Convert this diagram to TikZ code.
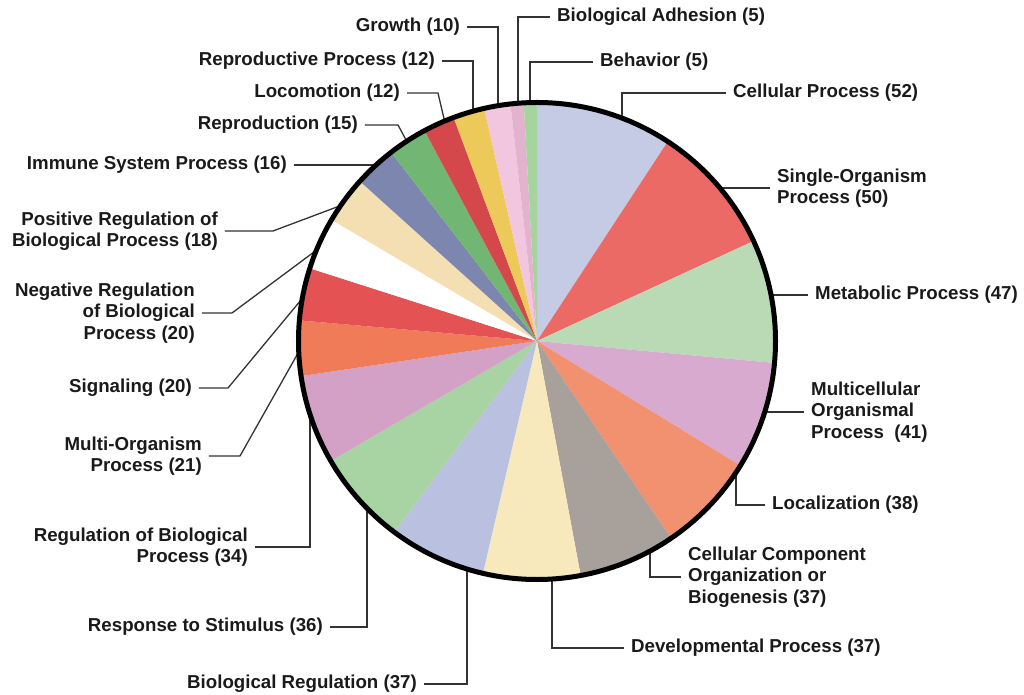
\documentclass[tikz,border=0pt]{standalone}
\usepackage{fontspec}
\setmainfont{Liberation Sans}

\definecolor{txtgray}{HTML}{1A1A1A}
\definecolor{linegray}{HTML}{333333}
\definecolor{cCell}{HTML}{C5CBE4}
\definecolor{cSingle}{HTML}{EC6A66}
\definecolor{cMetab}{HTML}{B9DAB4}
\definecolor{cMulti}{HTML}{D9AAD0}
\definecolor{cLocal}{HTML}{F19170}
\definecolor{cComp}{HTML}{A8A09B}
\definecolor{cDevel}{HTML}{F8E9BC}
\definecolor{cBioReg}{HTML}{BAC0E0}
\definecolor{cResp}{HTML}{A8D4A4}
\definecolor{cRegBio}{HTML}{D3A0C6}
\definecolor{cMultiOrg}{HTML}{EF7B58}
\definecolor{cSignal}{HTML}{E55254}
\definecolor{cPosReg}{HTML}{F3DFB1}
\definecolor{cImmune}{HTML}{7C86AF}
\definecolor{cReprod}{HTML}{72B674}
\definecolor{cLocom}{HTML}{D4484C}
\definecolor{cReprProc}{HTML}{EDC95A}
\definecolor{cGrowth}{HTML}{F2C6DE}
\definecolor{cAdhes}{HTML}{E2B2CE}
\definecolor{cBehav}{HTML}{A6D49E}

\tikzset{
  lbl/.style={font=\fontsize{18.7}{21.5}\selectfont\bfseries, text=txtgray, inner sep=0pt, inner xsep=7pt},
  lblL/.style={lbl, anchor=east, align=right},
  lblR/.style={lbl, anchor=west, align=left},
  leader/.style={draw=linegray, line width=1.3pt}
}

\begin{document}
\begin{tikzpicture}[x=1pt,y=1pt]
\useasboundingbox (-537,-354) rectangle (487,341);
\def\rad{238.5}
\coordinate (c) at (0,0);

% slices, clockwise from the top (total 563, 360/563 = 0.639432 deg each)
\xdef\angA{90}
\foreach \val/\col in {52/cCell,50/cSingle,47/cMetab,41/cMulti,38/cLocal,37/cComp,37/cDevel,37/cBioReg,36/cResp,34/cRegBio,21/cMultiOrg,20/cSignal,20/white,18/cPosReg,16/cImmune,15/cReprod,12/cLocom,12/cReprProc,10/cGrowth,5/cAdhes,5/cBehav}
{
  \pgfmathsetmacro\angB{\angA-\val*0.639432}
  \fill[\col] (c) -- (\angA:\rad) arc[start angle=\angA, end angle=\angB, radius=\rad] -- cycle;
  \xdef\angA{\angB}
}

% labels
\node[lblR] (cell) at (189,248) {Cellular Process (52)};
\node[lblR] (single) at (233,153) {Single-Organism\\Process (50)};
\node[lblR] (metab) at (271,46) {Metabolic Process (47)};
\node[lblR] (multi) at (267,-71) {Multicellular\\Organismal\\Process\ \ (41)};
\node[lblR] (local) at (228,-164) {Localization (38)};
\node[lblR] (comp) at (144,-236) {Cellular Component\\Organization or\\Biogenesis (37)};
\node[lblR] (devel) at (87,-307) {Developmental Process (37)};
\node[lblR] (adhes) at (13,324) {Biological Adhesion (5)};
\node[lblR] (behav) at (56,279) {Behavior (5)};

\node[lblL] (growth) at (-70,314) {Growth (10)};
\node[lblL] (reprproc) at (-95,280) {Reproductive Process (12)};
\node[lblL] (locom) at (-130,248) {Locomotion (12)};
\node[lblL] (reprod) at (-172,216) {Reproduction (15)};
\node[lblL] (immune) at (-243,176) {Immune System Process (16)};
\node[lblL] (posreg) at (-312,110) {Positive Regulation of\\Biological Process (18)};
\node[lblL] (negreg) at (-335,28) {Negative Regulation\\of Biological\\Process (20)};
\node[lblL] (signal) at (-338,-47) {Signaling (20)};
\node[lblL] (multiorg) at (-328,-115) {Multi-Organism\\Process (21)};
\node[lblL] (regbio) at (-282,-206) {Regulation of Biological\\Process (34)};
\node[lblL] (resp) at (-207,-286) {Response to Stimulus (36)};
\node[lblL] (bioreg) at (-113,-343) {Biological Regulation (37)};

% points on the rim
\foreach \n/\a in {cell/69.1,single/39.9,metab/11.1,multi/-17.3,local/-33.5,comp/-61.7,devel/-86.4,bioreg/-107.1,resp/-135.5,regbio/-162.1,multiorg/-177.4,signal/169.7,negreg/157.6,posreg/145.4,immune/132.4,reprod/123.1,locom/112.8,reprproc/105.6,growth/99.4,adhes/94.6,behav/91.7}
  \coordinate (p\n) at (\a:\rad);

% leader lines
\foreach \n in {cell,local,comp,devel,adhes,behav}
  \draw[leader] (p\n) |- (\n.west);
\foreach \n in {growth,reprproc,bioreg,resp,regbio}
  \draw[leader] (p\n) |- (\n.east);
\foreach \n in {single,metab,multi}
  \draw[leader] (\n.west) -- (\n.west -| p\n);
\draw[leader] (immune.east) -- (immune.east -| pimmune);
\foreach \n/\d in {locom/31,reprod/33,posreg/48,negreg/30,signal/29,multiorg/31}
  \draw[leader] (\n.east) -- ++(\d,0) -- (p\n);

% rim
\draw[line width=5pt] (c) circle[radius=\rad];
\end{tikzpicture}
\end{document}
